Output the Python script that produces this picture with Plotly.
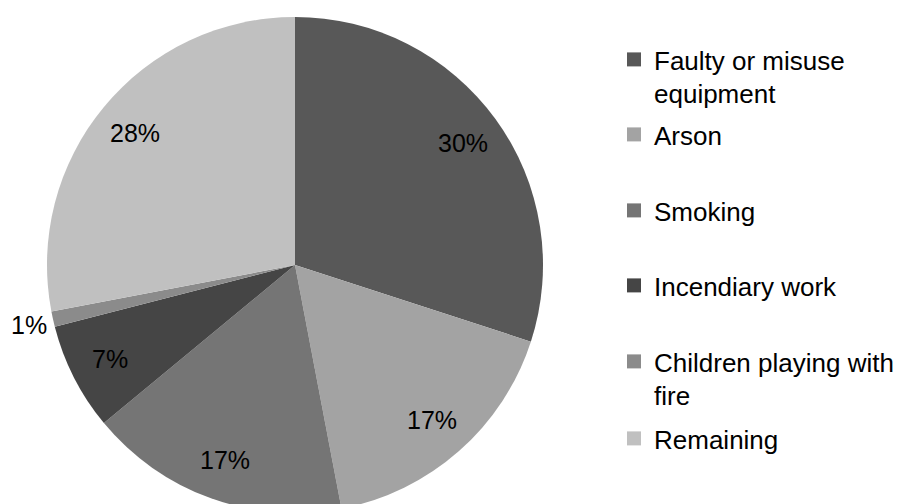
import math
import plotly.graph_objects as go

# ---- data ----
categories = ["Faulty or misuse equipment", "Arson", "Smoking", "Incendiary work",
              "Children playing with fire", "Remaining"]
legend_names = ["Faulty or misuse<br>equipment", "Arson", "Smoking", "Incendiary work",
                "Children playing with<br>fire", "Remaining"]
values = [30, 17, 17, 7, 1, 28]
colors = ["#585858", "#a3a3a3", "#757575", "#454545", "#8b8b8b", "#c0c0c0"]

# ---- geometry (pixels) ----
W, H = 900, 530
MT, MB = 17, 17
CX, R = 295, 248
PLOT_H = H - MT - MB
CY = MT + PLOT_H / 2
FONT = "Arial, Liberation Sans, sans-serif"

fig = go.Figure()
fig.add_trace(go.Pie(
    labels=categories, values=values, sort=False, direction="clockwise", rotation=0,
    marker=dict(colors=colors, line=dict(width=0)),
    textinfo="none", hoverinfo="label+percent", showlegend=False,
    domain=dict(x=[(CX - R) / W, (CX + R) / W], y=[0, 1]),
))

# percentage labels placed from the cumulative slice angles
total = sum(values)
annotations = []
cum = 0
for v in values:
    mid = (cum + v / 2) / total * 2 * math.pi
    cum += v
    f = 0.835 if v / total >= 0.03 else 1.10
    px = CX + R * f * math.sin(mid)
    py = CY - R * f * math.cos(mid)
    annotations.append(dict(
        x=px / W, y=(MT + PLOT_H - py) / PLOT_H, xref="paper", yref="paper",
        text=f"{round(v / total * 100)}%", showarrow=False,
        xanchor="center", yanchor="middle",
        font=dict(family=FONT, size=25, color="#000000"),
    ))

# legend entries (one legend per entry so spacing follows the reference)
first_line_centers = [60, 135, 211, 286, 362, 439]
legend_layouts = {}
for i, (name, c, yc) in enumerate(zip(legend_names, colors, first_line_centers)):
    key = "legend" if i == 0 else f"legend{i + 1}"
    fig.add_trace(go.Scatter(
        x=[None], y=[None], mode="markers", name=name, legend=key,
        marker=dict(symbol="square", size=14, color=c), showlegend=True,
        hoverinfo="skip",
    ))
    top = yc - 24
    legend_layouts[key] = dict(
        x=614 / W, xanchor="left", y=(MT + PLOT_H - top) / PLOT_H, yanchor="top",
        valign="top", bgcolor="rgba(0,0,0,0)", borderwidth=0,
        font=dict(family=FONT, size=26, color="#000000"),
    )

fig.update_layout(
    width=W, height=H,
    margin=dict(l=0, r=0, t=MT, b=MB),
    paper_bgcolor="white", plot_bgcolor="white",
    xaxis=dict(visible=False), yaxis=dict(visible=False),
    annotations=annotations,
    font=dict(family=FONT, size=25, color="#000000"),
    **legend_layouts,
)

fig.write_html(
    "out.html",
    post_script="document.documentElement.style.overflow='hidden';document.body.style.overflow='hidden';",
)
